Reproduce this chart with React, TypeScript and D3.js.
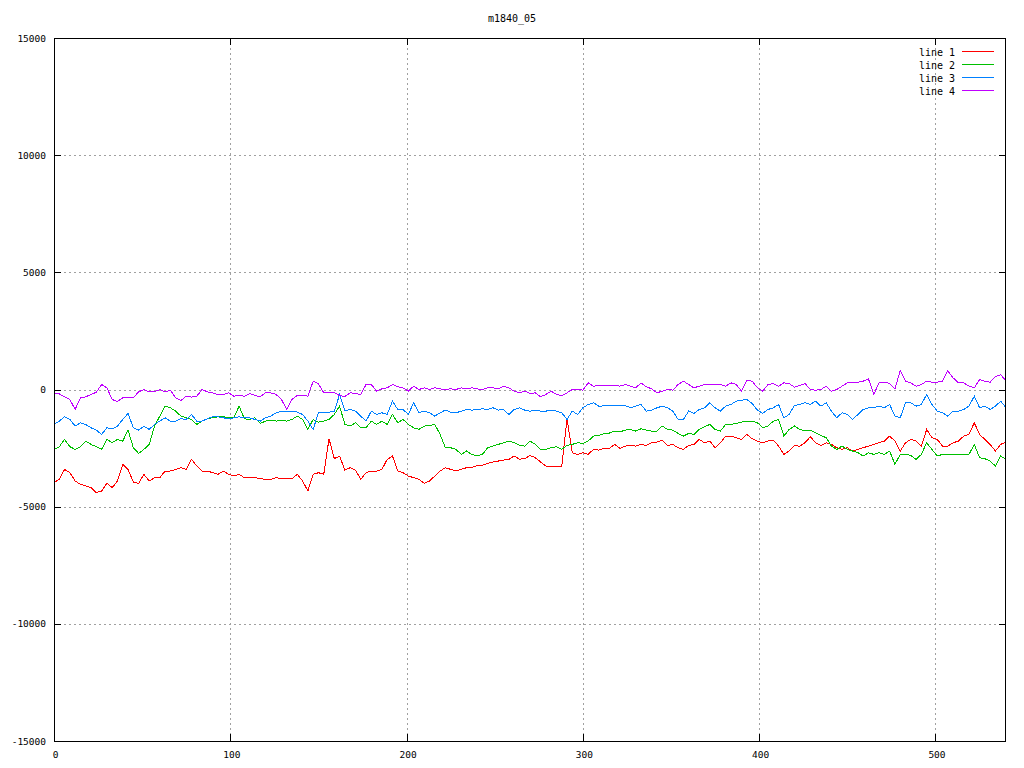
import React from "react";
import * as d3 from "d3";

const title = "m1840_05";
const seriesNames = ["line 1", "line 2", "line 3", "line 4"];
const seriesColors = ["#ff0000", "#00c000", "#0080ff", "#c000ff"];
const xTicks = [0, 100, 200, 300, 400, 500];
const yTicks = [-15000, -10000, -5000, 0, 5000, 10000, 15000];
const xStep = 3;

const line1 = [
  -3976, -3834, -3408, -3550, -3905, -4047, -4118, -4189, -4402, -4331,
  -4004, -4189, -3905, -3195, -3408, -3948, -4004, -3621, -3905, -3763,
  -3763, -3479, -3479, -3408, -3337, -3408, -2982, -3266, -3479, -3479,
  -3550, -3621, -3479, -3621, -3692, -3621, -3763, -3763, -3763, -3806,
  -3834, -3834, -3763, -3806, -3806, -3806, -3621, -3905, -4331, -3621,
  -3550, -3621, -2100, -2950, -2840, -3440, -3337, -3440, -3834, -3550,
  -3479, -3479, -3408, -2982, -2840, -3479, -3550, -3692, -3763, -3834,
  -4004, -3905, -3692, -3479, -3337, -3408, -3479, -3408, -3337, -3337,
  -3237, -3237, -3152, -3095, -3053, -3010, -2982, -2840, -2970, -2954,
  -2812, -2911, -3095, -3266, -3294, -3294, -3294, -1250, -2698, -2769,
  -2698, -2769, -2556, -2584, -2510, -2520, -2343, -2510, -2414, -2386,
  -2414, -2343, -2386, -2272, -2244, -2158, -2386, -2343, -2485, -2556,
  -2386, -2343, -2130, -2272, -2201, -2485, -2272, -1988, -1988, -2059,
  -2130, -1917, -2102, -2201, -2272, -2201, -2158, -2414, -2769, -2627,
  -2386, -2420, -2272, -2017, -2272, -2386, -2272, -2343, -2485, -2556,
  -2485, -2627, -2556, -2485, -2414, -2343, -2272, -2201, -1988, -2201,
  -2627, -2272, -2130, -2201, -2414, -1704, -2059, -2130, -2414, -2414,
  -2272, -2201, -1988, -1917, -1420, -1917, -2130, -2343, -2627, -2343,
  -2244,
];

const line2 = [
  -2556, -2442, -2130, -2442, -2556, -2442, -2201, -2343, -2442, -2556,
  -2130, -2272, -2130, -2201, -1732, -2485, -2726, -2556, -2343, -1562,
  -1136, -710, -781, -923, -1136, -1207, -1278, -1491, -1349, -1249,
  -1207, -1164, -1164, -1207, -1207, -710, -1249, -1278, -1207, -1448,
  -1349, -1306, -1349, -1306, -1349, -1278, -1136, -1278, -1704, -1278,
  -1392, -1349, -1278, -1065, -710, -1491, -1562, -1420, -1633, -1633,
  -1349, -1491, -1349, -1491, -1065, -1420, -1278, -1491, -1633, -1704,
  -1562, -1534, -1491, -1917, -2485, -2485, -2556, -2769, -2627, -2769,
  -2840, -2769, -2485, -2414, -2343, -2272, -2201, -2272, -2380, -2414,
  -2201, -2343, -2556, -2556, -2485, -2442, -2556, -2386, -2343, -2272,
  -2300, -2201, -1988, -1960, -1880, -1860, -1775, -1810, -1732, -1704,
  -1775, -1675, -1732, -1775, -1775, -1562, -1704, -1732, -1874, -1988,
  -1874, -1917, -1704, -1590, -1491, -1704, -1775, -1491, -1491, -1448,
  -1392, -1349, -1349, -1420, -1633, -1562, -1349, -1278, -1988, -1704,
  -1560, -1704, -1775, -1732, -1846, -1960, -2059, -2414, -2556, -2414,
  -2556, -2627, -2698, -2840, -2698, -2769, -2698, -2769, -2627, -3195,
  -2769, -2769, -2811, -2982, -2769, -2272, -2556, -2840, -2769, -2769,
  -2769, -2769, -2769, -2769, -2343, -2911, -2954, -3053, -3266, -2840,
  -2982,
];

const line3 = [
  -1491, -1349, -1164, -1278, -1562, -1420, -1491, -1633, -1732, -1917,
  -1633, -1675, -1562, -1278, -1022, -1633, -1732, -1562, -1704, -1491,
  -1349, -1207, -1349, -1349, -1249, -1278, -1065, -1349, -1349, -1249,
  -1164, -1164, -1207, -1249, -1207, -1164, -1207, -1207, -1278, -1349,
  -1207, -1136, -994, -923, -923, -923, -966, -1065, -1349, -1704,
  -994, -994, -966, -923, -213, -900, -852, -923, -1136, -1349,
  -923, -1065, -994, -1065, -497, -852, -852, -1065, -568, -994,
  -923, -994, -1136, -994, -880, -965, -994, -923, -852, -880,
  -852, -823, -852, -781, -880, -852, -1065, -852, -781, -880,
  -923, -880, -923, -923, -880, -923, -994, -1278, -923, -1065,
  -781, -639, -568, -710, -700, -680, -680, -700, -682, -781,
  -710, -639, -923, -880, -781, -710, -781, -923, -1278, -1278,
  -923, -1022, -852, -781, -568, -781, -923, -710, -639, -497,
  -454, -426, -596, -880, -1022, -852, -781, -639, -1207, -1065,
  -680, -639, -568, -639, -497, -710, -568, -923, -1207, -994,
  -1065, -1278, -1065, -852, -781, -781, -710, -781, -639, -1136,
  -1207, -568, -568, -710, -639, -213, -639, -923, -994, -1136,
  -923, -923, -852, -710, -284, -781, -710, -852, -710, -497,
  -781,
];

const line4 = [
  -142, -185, -312, -426, -852, -355, -312, -213, -114, 213,
  71, -426, -511, -355, -355, -355, -99, 0, -99, -99,
  0, -99, -28, -355, -469, -284, -327, -284, 0, -99,
  -142, -213, -213, -142, -284, -256, -284, -170, -256, -312,
  -142, -142, -213, -426, -852, -426, -256, -256, -284, 350,
  250, -142, -142, -142, -256, -300, -142, -170, -213, 213,
  213, -71, 28, 71, 213, 114, 71, -71, 142, 0,
  71, 0, 71, 28, 0, 28, 0, 71, 28, 71,
  28, 0, 71, 71, 28, 142, 71, -71, -142, -71,
  -170, -142, -312, -213, -71, -213, -256, -142, 0, 0,
  -28, 284, 142, 170, 150, 150, 170, 142, 213, 142,
  71, 284, 114, 28, -142, -71, 0, -28, 213, 355,
  213, 71, 142, 213, 213, 213, 213, 142, 284, 213,
  -71, 398, 355, 71, -71, 213, 256, 142, 284, 256,
  100, 170, 256, 0, -28, 0, 142, -71, 0, 142,
  284, 284, 312, 355, 454, -213, 284, 312, 256, 28,
  800, 350, 284, 142, 213, 355, 312, 312, 355, 800,
  497, 284, 284, 142, 71, 426, 355, 312, 540, 639,
  355,
];

const allSeries = [line1, line2, line3, line4];

const W = 1024;
const H = 768;
const left = 54;
const right = 1006;
const top = 38;
const bottom = 741;
const font = "'DejaVu Sans Mono', 'Liberation Mono', monospace";

export default function App() {
  const x = d3.scaleLinear().domain([0, 540]).range([left, right]);
  const y = d3.scaleLinear().domain([-15000, 15000]).range([bottom, top]);
  const lineGen = d3
    .line<number>()
    .x((_, i) => x(i * xStep))
    .y((d) => y(d));

  return (
    <svg
      width={W}
      height={H}
      style={{ position: "absolute", left: 0, top: 0, background: "#fff" }}
    >
      <rect x={0} y={0} width={W} height={H} fill="#fff" />
      {/* grid */}
      <g stroke="#a0a0a0" strokeWidth={1} strokeDasharray="2,3" shapeRendering="crispEdges">
        {xTicks
          .filter((t) => t > 0)
          .map((t) => (
            <line key={"gx" + t} x1={Math.round(x(t)) + 0.5} x2={Math.round(x(t)) + 0.5} y1={top} y2={bottom} />
          ))}
        {yTicks
          .filter((t) => t > -15000 && t < 15000)
          .map((t) => (
            <line key={"gy" + t} x1={left} x2={right} y1={Math.round(y(t)) + 0.5} y2={Math.round(y(t)) + 0.5} />
          ))}
      </g>
      {/* data lines */}
      <g fill="none" strokeWidth={1} shapeRendering="crispEdges">
        {allSeries.map((s, i) => (
          <path key={"s" + i} d={lineGen(s) || ""} stroke={seriesColors[i]} />
        ))}
      </g>
      {/* border */}
      <rect
        x={left + 0.5}
        y={top + 0.5}
        width={right - left - 1}
        height={bottom - top}
        fill="none"
        stroke="#000"
        strokeWidth={1}
        shapeRendering="crispEdges"
      />
      {/* ticks */}
      <g stroke="#000" strokeWidth={1} shapeRendering="crispEdges">
        {xTicks.map((t) => {
          const px = Math.round(x(t)) + 0.5;
          return (
            <g key={"tx" + t}>
              <line x1={px} x2={px} y1={bottom} y2={bottom - 7} />
              <line x1={px} x2={px} y1={top} y2={top + 7} />
            </g>
          );
        })}
        {yTicks.map((t) => {
          const py = Math.round(y(t)) + 0.5;
          return (
            <g key={"ty" + t}>
              <line x1={left} x2={left + 7} y1={py} y2={py} />
              <line x1={right - 7} x2={right} y1={py} y2={py} />
            </g>
          );
        })}
      </g>
      {/* tick labels */}
      <g fontFamily={font} fontSize={9.5} fill="#000">
        {xTicks.map((t) => (
          <text key={"lx" + t} x={x(t) + 1.5} y={755} textAnchor="middle" dominantBaseline="middle">
            {t}
          </text>
        ))}
        {yTicks.map((t) => (
          <text key={"ly" + t} x={46} y={y(t) + 1} textAnchor="end" dominantBaseline="middle">
            {t}
          </text>
        ))}
      </g>
      {/* title */}
      <text x={512} y={19} fontFamily={font} fontSize={10} textAnchor="middle" dominantBaseline="middle">
        {title}
      </text>
      {/* legend */}
      <g fontFamily={font} fontSize={10}>
        {seriesNames.map((n, i) => {
          const ly = 51.5 + i * 13;
          return (
            <g key={"lg" + i}>
              <text x={955} y={ly + 1} textAnchor="end" dominantBaseline="middle">
                {n}
              </text>
              <line x1={962} x2={994} y1={ly} y2={ly} stroke={seriesColors[i]} strokeWidth={1} shapeRendering="crispEdges" />
            </g>
          );
        })}
      </g>
    </svg>
  );
}
